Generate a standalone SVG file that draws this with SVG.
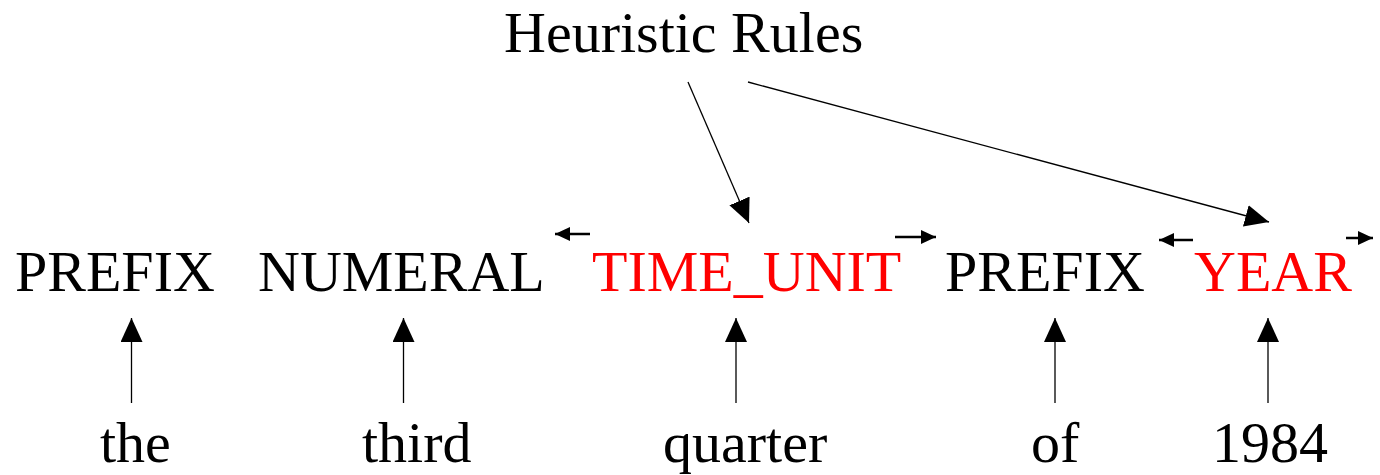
<svg xmlns="http://www.w3.org/2000/svg" width="1380" height="475" viewBox="0 0 1380 475">
<style>
text{font-family:"Liberation Serif","Times New Roman",serif;font-size:58px;fill:#000}
.red{fill:#ff0000}
.c{stroke:#000;stroke-width:1.3;fill:none}
.s{stroke:#000;stroke-width:2.5;fill:none}
</style>
<defs>
<marker id="big" markerUnits="userSpaceOnUse" viewBox="0 0 24 22" markerWidth="24" markerHeight="22" refX="24" refY="11" orient="auto">
<path d="M0,0 L24,11 L0,22 Z" fill="#000"/>
</marker>
<marker id="small" markerUnits="userSpaceOnUse" viewBox="0 0 15 14" markerWidth="15" markerHeight="14" refX="15" refY="7" orient="auto">
<path d="M0,0 L15,7 L0,14 Z" fill="#000"/>
</marker>
</defs>
<g id="heuristic"><text x="504" y="52">Heuristic Rules</text></g>
<g id="tag-prefix1"><text x="15" y="291">PREFIX</text></g>
<g id="tag-numeral"><text x="258" y="291">NUMERAL</text></g>
<g id="tag-timeunit"><text class="red" x="592" y="291">TIME_UNIT</text></g>
<g id="tag-prefix2"><text x="945" y="291">PREFIX</text></g>
<g id="tag-year"><text class="red" x="1194" y="291">YEAR</text></g>
<g id="word-the"><text x="100" y="462">the</text></g>
<g id="word-third"><text x="362" y="462">third</text></g>
<g id="word-quarter"><text x="663" y="462">quarter</text></g>
<g id="word-of"><text x="1031" y="462">of</text></g>
<g id="word-1984"><text x="1212" y="462">1984</text></g>
<g id="connectors">
<line class="c" x1="131.5" y1="403" x2="131.5" y2="318" marker-end="url(#big)"/>
<line class="c" x1="403.5" y1="403" x2="403.5" y2="318" marker-end="url(#big)"/>
<line class="c" x1="736" y1="403" x2="736" y2="318" marker-end="url(#big)"/>
<line class="c" x1="1055" y1="403" x2="1055" y2="318" marker-end="url(#big)"/>
<line class="c" x1="1268" y1="403" x2="1268" y2="318" marker-end="url(#big)"/>
<line class="c" x1="688" y1="82" x2="749" y2="223" marker-end="url(#big)"/>
<line class="c" x1="748" y1="82" x2="1269" y2="222" marker-end="url(#big)"/>
<line class="s" x1="590" y1="234" x2="555" y2="234" marker-end="url(#small)"/>
<line class="s" x1="895" y1="237" x2="936" y2="237" marker-end="url(#small)"/>
<line class="s" x1="1193" y1="240" x2="1159" y2="240" marker-end="url(#small)"/>
<line class="s" x1="1346" y1="238" x2="1373" y2="238" marker-end="url(#small)"/>
</g>
</svg>
